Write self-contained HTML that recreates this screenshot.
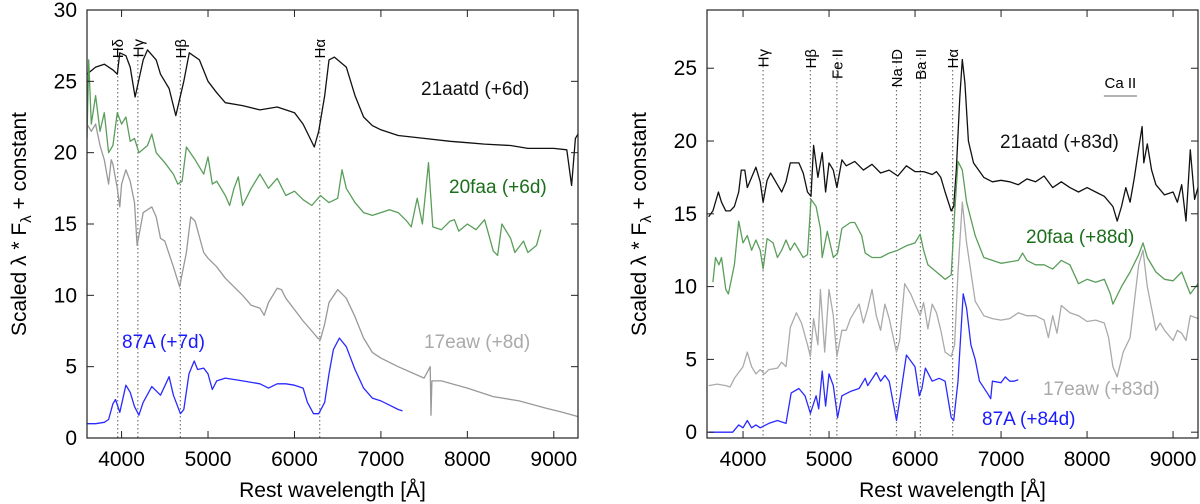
<!DOCTYPE html>
<html><head><meta charset="utf-8">
<style>
html,body{margin:0;padding:0;background:#fff;}
svg{display:block;font-family:"Liberation Sans",sans-serif;}
</style></head>
<body>
<svg id="chart" width="1200" height="504" viewBox="0 0 1200 504" xmlns="http://www.w3.org/2000/svg"></svg>
<script>
// ---- Left panel data ----
const L_aatd_w=[3600,3700,3800,3900,3950,3980,4050,4100,4157,4250,4300,4400,4450,4550,4627,4720,4783,4900,5000,5100,5200,5400,5600,5800,6000,6100,6229,6280,6350,6400,6462,6600,6700,6800,6900,7000,7200,7500,7800,8000,8200,8500,8700,9000,9150,9206,9250,9280];
const L_aatd_f=[25.5,26,26.2,25.8,25.5,27,26.8,26,23.9,26.5,27.2,26.5,25.5,24.5,22.6,25,27.0,26.5,25,24.2,23.5,23.3,23,23.2,22.8,22,20.4,21.5,24,26.5,26.7,26,24,22.5,21.9,21.6,21.2,21,20.8,20.7,20.6,20.5,20.3,20.3,20.2,17.7,21,21.3];
const L_faa_w=[3600,3620,3650,3700,3750,3800,3850,3900,3950,4000,4050,4100,4150,4200,4300,4350,4400,4500,4600,4650,4700,4750,4850,4950,5000,5050,5100,5200,5250,5300,5350,5400,5500,5600,5700,5800,5900,6000,6100,6200,6300,6400,6500,6550,6600,6700,6800,6900,7000,7100,7200,7300,7350,7420,7480,7550,7600,7700,7800,7850,7900,8000,8100,8200,8300,8350,8400,8500,8550,8650,8700,8800,8850];
const L_faa_f=[21,26.5,22,24,21.5,22.8,20,20.5,22.8,22,22.5,20.8,21,20,20.5,21.3,20,19.3,18.5,17.8,18,20.4,19.5,18.5,19.7,17.8,18,17,16.3,17.5,18.3,16.3,17.5,18.5,17.5,18.2,17,17.3,16.7,16.3,17.0,16.5,16.8,18.8,17.5,16.5,15.8,15.6,15.8,16,15.8,15.2,14.8,16.8,15,19.3,14.8,14.6,15.2,15.3,14.5,15,14.6,15.3,13.1,12.8,15,14,13,13.8,13,13.5,14.6];
const L_eaw_w=[3600,3650,3700,3750,3800,3850,3880,3900,3950,3980,4000,4050,4100,4150,4179,4250,4350,4400,4450,4500,4600,4671,4750,4800,4850,4950,5000,5100,5200,5300,5400,5500,5600,5650,5700,5800,5850,5900,6000,6100,6200,6270,6300,6350,6400,6500,6600,6700,6800,6900,7000,7200,7500,7570,7580,7590,7700,8000,8300,8600,8900,9100,9280];
const L_eaw_f=[22,21.5,22,20.5,19.5,17.8,19.5,19.2,17.5,16.2,17.8,18.8,18,16.5,13.5,15.8,16.2,15.5,14,13.8,12,10.6,13,15.5,15.2,13,12.6,12,11.2,10.6,10,9.3,9.1,8.6,9.5,10.5,10.4,9.8,9,8.2,7.5,7.0,6.9,8,9.5,10.4,9.8,8.5,7.0,6.0,5.6,5.0,4.2,5.0,1.6,4.0,4.0,3.5,2.9,2.6,2.1,1.8,1.5];
const L_87a_w=[3600,3700,3800,3850,3900,3930,3980,4050,4100,4150,4200,4250,4350,4450,4550,4600,4680,4720,4780,4840,4880,4950,5000,5050,5100,5200,5400,5600,5700,5800,5900,6000,6100,6150,6220,6280,6350,6400,6450,6520,6600,6700,6800,6900,7000,7100,7200,7250];
const L_87a_f=[1.0,1.0,1.1,1.3,2.4,2.7,1.8,3.7,3.2,2.2,1.6,2.5,3.6,3.0,4.3,3.0,1.7,2.0,4.5,5.4,4.8,4.9,4.5,3.4,4.0,4.2,4.0,3.8,3.5,3.8,3.8,3.7,3.5,2.5,1.7,1.7,2.5,4.5,6.2,7.0,6.4,4.8,3.5,2.8,2.6,2.3,2.0,1.9];
const L_lines=[3955,4188,4680,6292];
const L_lineNames=["Hδ","Hγ","Hβ","Hα"];
const L_yticks=[0,5,10,15,20,25,30];
const xticks=[4000,5000,6000,7000,8000,9000];
// ---- Right panel data ----
const R_aatd_w=[3600,3650,3714,3750,3800,3850,3900,3950,3980,4020,4050,4100,4150,4200,4233,4280,4320,4400,4450,4500,4550,4650,4700,4750,4790,4820,4870,4920,4960,5000,5050,5091,5150,5200,5300,5400,5500,5600,5700,5800,5900,6000,6100,6200,6250,6300,6350,6420,6450,6480,6520,6550,6580,6620,6680,6800,6900,7000,7100,7200,7300,7400,7500,7600,7700,7800,7900,8000,8100,8200,8300,8350,8400,8450,8500,8550,8600,8640,8660,8700,8750,8800,8900,9000,9050,9100,9150,9200,9250,9290];
const R_aatd_f=[14.8,15.2,16.5,15.8,15.2,15.2,15.5,16.5,18,18,16.8,17.5,18.2,17.2,15.8,17.3,17.8,17,16.5,17.2,18.5,18.5,17.8,16.5,16.2,19.7,17.5,19.2,16.5,18.5,18,16.8,18.7,18.3,18.6,18,18.4,17.8,18,17.6,18.3,17.9,17.9,17.7,17.9,17.5,16.5,15.2,15.5,18,23,25.6,24,20,18.5,17.5,17.2,17.3,17.2,17,17.4,17.2,17.6,16.8,17.2,16.8,16.5,16.8,16.5,16.2,15.5,14.5,15.5,16.8,15.8,17.5,19.5,21,18.5,19.8,18,17,16.3,16.5,15.8,17,14.5,19.4,16,16.8];
const R_faa_w=[3650,3680,3720,3750,3800,3830,3900,3950,4000,4050,4100,4150,4200,4233,4280,4350,4400,4450,4500,4550,4600,4700,4750,4790,4850,4900,4920,4980,5050,5100,5150,5250,5300,5380,5420,5500,5600,5700,5800,5900,6000,6060,6100,6150,6250,6350,6420,6460,6500,6550,6600,6700,6800,6900,7000,7100,7200,7250,7300,7400,7500,7600,7700,7800,7900,8000,8100,8200,8270,8300,8400,8500,8600,8650,8700,8800,8900,9000,9100,9200,9290];
const R_faa_f=[10.3,12,11.5,12,9.8,9.5,11.5,14.5,13,13.5,12.5,13.2,12.5,11.2,13.3,13,12,12.5,13.2,12.5,13,12,12.2,16,15.5,14,12,13.8,12,12.3,14,14.4,14.4,13.5,12.3,12,12,12.3,12.5,12.8,13,13.6,12.5,11.5,11,10.5,10.8,15,18.6,18,15.8,13.5,12,11.8,11.6,11.7,11.8,12.3,11.8,11.5,11.5,11.2,11.8,11.5,10.2,10.5,10.3,10.5,9.5,8.8,10,11,12.2,13,12,11,10.5,10.4,11,9.5,10.2];
const R_eaw_w=[3600,3700,3800,3850,3900,4000,4050,4100,4150,4200,4250,4300,4400,4450,4500,4550,4620,4680,4750,4783,4820,4870,4900,4950,5000,5050,5091,5150,5200,5250,5350,5400,5450,5500,5550,5600,5650,5700,5784,5820,5880,5950,6000,6060,6100,6150,6200,6250,6300,6350,6420,6460,6500,6550,6600,6700,6800,6900,7000,7100,7200,7300,7400,7500,7550,7600,7650,7700,7800,7900,8000,8100,8200,8250,8300,8350,8420,8500,8600,8650,8700,8800,8850,8900,9000,9050,9100,9150,9200,9250,9290];
const R_eaw_f=[3.2,3.3,3.2,3.1,3.7,4.5,5.5,4.5,4.0,4.3,4.0,4.3,4.4,4.8,4.5,7.2,8.2,7.5,6.0,5.2,7.8,6,9.8,5.5,9.8,8,5.2,7,7,7.8,8.8,7.5,8.5,9.8,8,7,8.8,7.8,5.5,6.3,10.2,9.5,8.8,8,8.9,7.1,8.8,8.2,7,5.5,5.2,6,11,15.8,13,9,8.0,7.8,7.7,7.8,8.2,8.0,8.0,7.7,6.5,8,6.8,8.7,8.2,8.0,7.6,7.7,7.5,6.5,4.5,3.8,5.5,6.5,11.5,12.5,10,7,7.5,7.0,6.3,7.0,6.8,6.3,8.0,7.9,7.8];
const R_87a_w=[3600,3700,3800,3880,3950,4000,4050,4100,4150,4200,4300,4400,4500,4560,4650,4720,4783,4850,4880,4920,4960,5000,5050,5100,5150,5250,5350,5420,5450,5550,5600,5650,5700,5784,5830,5900,6000,6050,6080,6120,6200,6280,6350,6420,6450,6500,6560,6600,6650,6700,6750,6850,6880,6900,7000,7050,7100,7150,7200];
const R_87a_f=[0,0,0,0,0.5,0.3,0.8,0.3,0.5,0.3,0.6,0.8,0.6,2.7,3.0,2.5,1.3,2.5,1.6,4.2,1.8,4.0,3.2,1.0,2.5,2.8,3.0,3.7,3.2,4.1,3.5,3.9,3.5,0.8,2.5,5.3,4.5,2.5,3.0,4.4,3.5,3.7,3.5,1.0,0.8,3.5,9.5,8.5,6,5,3.5,2.6,2.3,3.5,3.4,3.8,3.5,3.5,3.6];
const R_lines=[4233,4783,5091,5784,6062,6437];
const R_lineNames=["Hγ","Hβ","Fe II","Na ID","Ba II","Hα"];
const R_yticks=[0,5,10,15,20,25];

const NS="http://www.w3.org/2000/svg";
const svg=document.getElementById('chart');
function mk(tag,attrs,parent){const e=document.createElementNS(NS,tag);for(const k in attrs)e.setAttribute(k,attrs[k]);(parent||svg).appendChild(e);return e;}

function panel(cfg){
  const g=mk('g',{});
  
  
  const X=w=>cfg.x0+(w-cfg.wmin)/(cfg.wmax-cfg.wmin)*(cfg.x1-cfg.x0);
  const Y=v=>cfg.y1-(v-cfg.vmin)/(cfg.vmax-cfg.vmin)*(cfg.y1-cfg.y0);
  const clip='clip-'+cfg.name;
  const cp=mk('clipPath',{id:clip},g);
  mk('rect',{x:cfg.x0,y:cfg.y0,width:cfg.x1-cfg.x0,height:cfg.y1-cfg.y0},cp);
  cfg.lines.forEach((w,i)=>{
    const l=mk('line',{x1:X(w),x2:X(w),y1:cfg.lineTop,y2:cfg.y1,stroke:'#777','stroke-width':1.2,'stroke-dasharray':'1.5 2.5'},g);
    
    
    const t=mk('text',{x:0,y:0,'font-size':15,'text-anchor':'end',transform:`translate(${X(w)+5.5},${cfg.lineTop-5}) rotate(-90)`},g);
    t.textContent=cfg.lineNames[i];
    
    
  });
  cfg.series.forEach(s=>{
    const d=s.w.map((w,i)=>(i?'L':'M')+X(w).toFixed(1)+' '+Y(s.f[i]).toFixed(1)).join(' ');
    const p=mk('path',{d:d,fill:'none',stroke:s.color,'stroke-width':1.3,'stroke-linejoin':'round','clip-path':`url(#${clip})`},g);
    
    
    const t=mk('text',{x:s.lx,y:s.ly,'font-size':19,fill:s.lcolor},g);
    t.textContent=s.label;
    
    
  });
  const fr=mk('rect',{x:cfg.x0,y:cfg.y0,width:cfg.x1-cfg.x0,height:cfg.y1-cfg.y0,fill:'none',stroke:'#222','stroke-width':1.2},g);
  
  
  xticks.forEach(w=>{
    const x=X(w);
    mk('line',{x1:x,x2:x,y1:cfg.y1,y2:cfg.y1-7,stroke:'#222','stroke-width':1},g);
    mk('line',{x1:x,x2:x,y1:cfg.y0,y2:cfg.y0+7,stroke:'#222','stroke-width':1},g);
    const t=mk('text',{x:x,y:cfg.y1+28,'font-size':21,'text-anchor':'middle'},g);
    t.textContent=w;
    
    
  });
  cfg.yticks.forEach(v=>{
    const y=Y(v);
    mk('line',{x1:cfg.x0,x2:cfg.x0+7,y1:y,y2:y,stroke:'#222','stroke-width':1},g);
    mk('line',{x1:cfg.x1,x2:cfg.x1-7,y1:y,y2:y,stroke:'#222','stroke-width':1},g);
    const t=mk('text',{x:cfg.x0-10,y:y+7,'font-size':21,'text-anchor':'end'},g);
    t.textContent=v;
    
    
  });
  const xt=mk('text',{x:(cfg.x0+cfg.x1)/2,y:497,'font-size':21,'text-anchor':'middle'},g);
  xt.textContent='Rest wavelength [Å]';
  
  
  const yt=mk('text',{x:0,y:0,'font-size':21,'text-anchor':'middle',transform:`translate(${cfg.ytx},${(cfg.y0+cfg.y1)/2}) rotate(-90)`},g);
  yt.innerHTML='Scaled λ * F<tspan font-size="15" dy="5">λ</tspan><tspan dy="-5"> + constant</tspan>';
  
  
  return {g,X,Y};
}

panel({name:'left-panel',x0:87,x1:578,y0:10,y1:438,wmin:3600,wmax:9280,vmin:0,vmax:30,ytx:26,
  yticks:L_yticks,lines:L_lines,lineNames:L_lineNames,lineTop:44,
  series:[
    {id:'21aatd-6d',w:L_aatd_w,f:L_aatd_f,color:'#111',lcolor:'#111',label:'21aatd (+6d)',lx:421,ly:95},
    {id:'20faa-6d',w:L_faa_w,f:L_faa_f,color:'#5a9e5a',lcolor:'#1b6e1b',label:'20faa (+6d)',lx:449,ly:193},
    {id:'17eaw-8d',w:L_eaw_w,f:L_eaw_f,color:'#999',lcolor:'#aaa',label:'17eaw (+8d)',lx:424,ly:348},
    {id:'87a-7d',w:L_87a_w,f:L_87a_f,color:'#2a2aff',lcolor:'#1a1aff',label:'87A (+7d)',lx:122,ly:348}
  ]});
const R=panel({name:'right-panel',x0:707,x1:1198,y0:10,y1:438,wmin:3581,wmax:9290,vmin:-0.4,vmax:29,ytx:646,
  yticks:R_yticks,lines:R_lines,lineNames:R_lineNames,lineTop:54,
  series:[
    {id:'21aatd-83d',w:R_aatd_w,f:R_aatd_f,color:'#111',lcolor:'#111',label:'21aatd (+83d)',lx:1000,ly:148},
    {id:'20faa-88d',w:R_faa_w,f:R_faa_f,color:'#5a9e5a',lcolor:'#1b6e1b',label:'20faa (+88d)',lx:1026,ly:243},
    {id:'17eaw-83d',w:R_eaw_w,f:R_eaw_f,color:'#aaa',lcolor:'#aaa',label:'17eaw (+83d)',lx:1043,ly:395},
    {id:'87a-84d',w:R_87a_w,f:R_87a_f,color:'#2a2aff',lcolor:'#1a1aff',label:'87A (+84d)',lx:982,ly:425}
  ]});
const ca=mk('line',{x1:R.X(8195),x2:R.X(8580),y1:96,y2:96,stroke:'#666','stroke-width':1});


const cat=mk('text',{x:R.X(8387),y:88,'font-size':15,'text-anchor':'middle'});
cat.textContent='Ca II';


</script>
</body></html>
